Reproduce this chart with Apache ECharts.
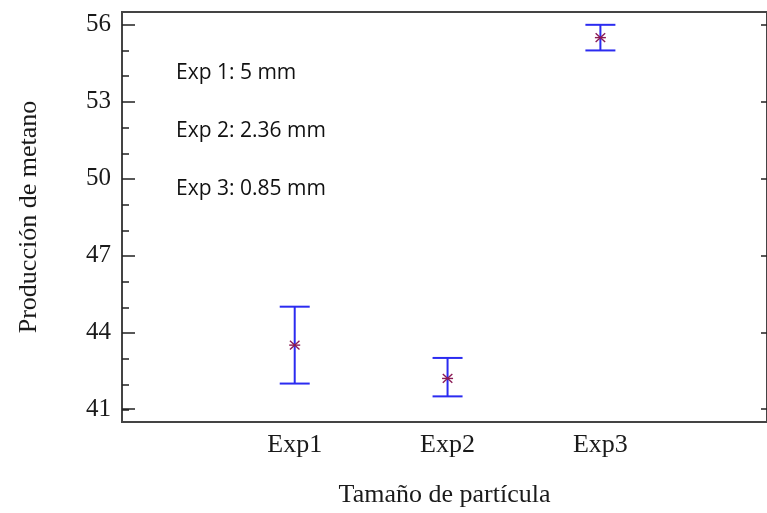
<!DOCTYPE html>
<html>
<head>
<meta charset="utf-8">
<script src="https://cdn.jsdelivr.net/npm/echarts@6/dist/echarts.min.js"></script>
<style>
  html, body { margin: 0; padding: 0; background: #fff; }
  #chart { width: 767px; height: 513px; }
</style>
</head>
<body>
<div id="chart"></div>
<script>
// Particle size experiments and measured methane production
const categories = ['Exp1', 'Exp2', 'Exp3'];
const means = [43.5, 42.2, 55.5];
const lowerBounds = [42.0, 41.5, 55.0];
const upperBounds = [45.0, 43.0, 56.0];
const yTicks = [41, 44, 47, 50, 53, 56];
const yMinorTicks = [41, 42, 43, 44, 45, 46, 47, 48, 49, 50, 51, 52, 53, 54, 55, 56];
const notes = ['Exp 1: 5 mm', 'Exp 2: 2.36 mm', 'Exp 3: 0.85 mm'];

const serif = '"Liberation Serif", "DejaVu Serif", serif';
const axisColor = '#444';
// the right frame edge sits just past the canvas edge; only its ticks show
const plotBox = { left: 122, top: 12, right: -2, bottom: 90 };
const yRange = { min: 40.5, max: 56.5 };

const rows = categories.map((c, i) => [i + 1, means[i], lowerBounds[i], upperBounds[i]]);

const chart = echarts.init(document.getElementById('chart'), null, { renderer: 'canvas' });

function renderInterval(params, api) {
  const x = api.value(0);
  const mid = api.coord([x, api.value(1)]);
  const lo = api.coord([x, api.value(2)]);
  const hi = api.coord([x, api.value(3)]);
  const capHalf = 15;
  const barStyle = { stroke: '#2b2bf0', lineWidth: 2 };
  const starStyle = { stroke: '#8a1a55', lineWidth: 1.4 };
  const r = 5.5;
  const dx = r * Math.cos(Math.PI / 6);
  const dy = r * Math.sin(Math.PI / 6) * 1.6;
  return {
    type: 'group',
    children: [
      { type: 'line', shape: { x1: lo[0], y1: lo[1], x2: hi[0], y2: hi[1] }, style: barStyle },
      { type: 'line', shape: { x1: hi[0] - capHalf, y1: hi[1], x2: hi[0] + capHalf, y2: hi[1] }, style: barStyle },
      { type: 'line', shape: { x1: lo[0] - capHalf, y1: lo[1], x2: lo[0] + capHalf, y2: lo[1] }, style: barStyle },
      { type: 'line', shape: { x1: mid[0] - r, y1: mid[1], x2: mid[0] + r, y2: mid[1] }, style: starStyle },
      { type: 'line', shape: { x1: mid[0] - dx, y1: mid[1] - dy, x2: mid[0] + dx, y2: mid[1] + dy }, style: starStyle },
      { type: 'line', shape: { x1: mid[0] - dx, y1: mid[1] + dy, x2: mid[0] + dx, y2: mid[1] - dy }, style: starStyle }
    ]
  };
}

const option = {
  backgroundColor: '#fff',
  animation: false,
  grid: [
    Object.assign({ containLabel: false, show: true, borderColor: axisColor, borderWidth: 2 }, plotBox),
    // overlay grid carrying the minor ticks of the left axis
    Object.assign({ containLabel: false, show: false }, plotBox)
  ],
  xAxis: [
    {
      type: 'value',
      gridIndex: 0,
      min: -0.13,
      max: 4.09,
      axisLine: { show: true, onZero: false, lineStyle: { color: axisColor, width: 2 } },
      axisTick: { show: false },
      splitLine: { show: false },
      axisLabel: {
        customValues: [1, 2, 3],
        formatter: v => categories[Math.round(v) - 1] || '',
        color: '#1a1a1a', fontFamily: serif, fontSize: 26, margin: 10
      },
      name: 'Tamaño de partícula',
      nameLocation: 'middle',
      nameGap: 60,
      nameTextStyle: { color: '#1a1a1a', fontFamily: serif, fontSize: 26 }
    },
    {
      type: 'value',
      gridIndex: 1,
      min: -0.13,
      max: 4.09,
      show: false
    }
  ],
  yAxis: [
    {
      type: 'value',
      gridIndex: 0,
      min: yRange.min,
      max: yRange.max,
      position: 'left',
      axisLine: { show: true, onZero: false, lineStyle: { color: axisColor, width: 2 } },
      axisTick: { show: true, inside: true, length: 13, customValues: yTicks,
                  lineStyle: { color: '#222', width: 1.5 } },
      splitLine: { show: false },
      axisLabel: { customValues: yTicks, color: '#1a1a1a', fontFamily: serif, fontSize: 25, margin: 11 },
      name: 'Producción de metano',
      nameLocation: 'middle',
      nameGap: 80,
      nameTextStyle: { color: '#1a1a1a', fontFamily: serif, fontSize: 26 }
    },
    {
      type: 'value',
      gridIndex: 0,
      min: yRange.min,
      max: yRange.max,
      position: 'right',
      axisLine: { show: true, onZero: false, lineStyle: { color: axisColor, width: 2 } },
      axisTick: { show: true, inside: true, length: 6, customValues: yTicks,
                  lineStyle: { color: '#222', width: 1.5 } },
      axisLabel: { show: false },
      splitLine: { show: false }
    },
    {
      type: 'value',
      gridIndex: 1,
      min: yRange.min,
      max: yRange.max,
      position: 'left',
      axisLine: { show: false, onZero: false },
      axisTick: { show: true, inside: true, length: 7, customValues: yMinorTicks,
                  lineStyle: { color: '#222', width: 1.5 } },
      axisLabel: { show: false },
      splitLine: { show: false }
    }
  ],
  graphic: notes.map((t, i) => ({
    type: 'text',
    left: 176,
    top: 63 + i * 58,
    style: { text: t, fill: '#111', fontSize: 21, fontFamily: '"Open Sans", "Noto Sans", sans-serif' }
  })),
  series: [
    {
      type: 'custom',
      xAxisIndex: 0,
      yAxisIndex: 0,
      data: rows,
      encode: { x: 0, y: [1, 2, 3] },
      renderItem: renderInterval,
      z: 5
    }
  ]
};

chart.setOption(option);
</script>
</body>
</html>
